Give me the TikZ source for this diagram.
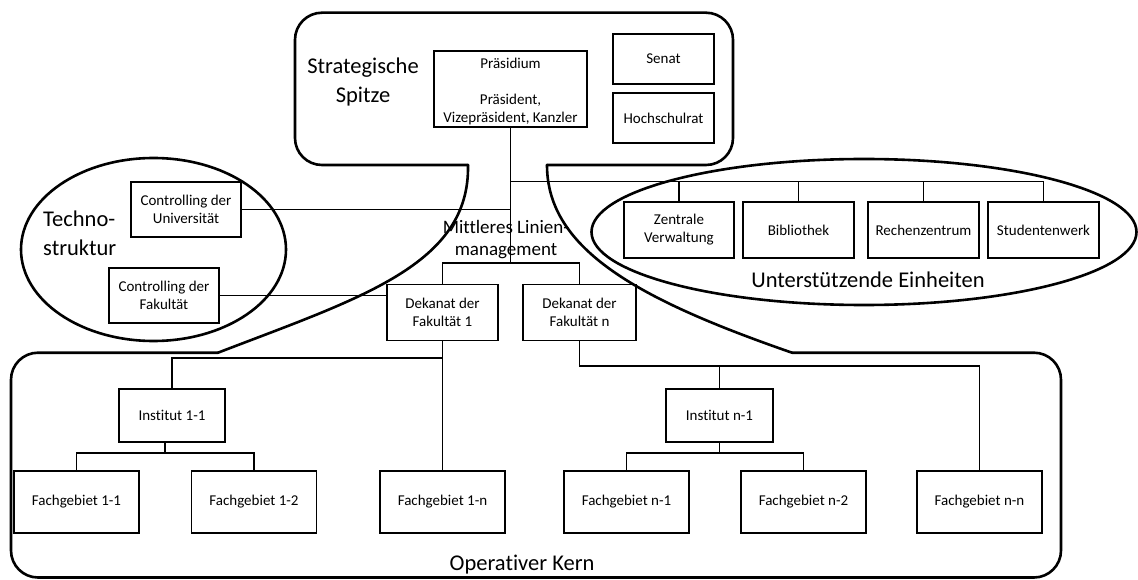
\documentclass[tikz,border=0pt]{standalone}
\usepackage{fontspec}
\setmainfont{Carlito}[Ligatures=NoCommon]
\begin{document}
\begin{tikzpicture}[x=1pt,y=-1pt]
\tikzset{
  box/.style={draw, line width=1.2pt, inner sep=0pt, align=center,
              font=\fontsize{15}{18}\selectfont},
  wh/.style 2 args={minimum width=#1, minimum height=#2},
  conn/.style={line width=1.2pt},
  outline/.style={line width=2.6pt, line join=round, line cap=round},
  biglabel/.style={inner sep=0pt, align=center, font=\fontsize{22.5}{29}\selectfont},
  midlabel/.style={inner sep=0pt, align=center, font=\fontsize{19}{22}\selectfont},
}
\useasboundingbox (0,0) rectangle (1138,580);

% strategic apex
\node[box, wh={153pt}{76pt}] (praes) at (510.5,89) {};
\node[inner sep=0pt, align=center, font=\fontsize{15}{18}\selectfont] (praestext)
  at (praes.center) [yshift=-2.5pt]
  {Präsidium\\[18pt]Präsident,\\Vizepräsident, Kanzler};
\node[box, wh={101pt}{50pt}] (senat) at (663.5,59) {Senat};
\node[box, wh={101pt}{50pt}] (hsr) at (663.5,118) {Hochschulrat};

% technostructure
\node[box, wh={110pt}{55pt}] (cu) at (186,209.5) {Controlling der\\Universität};
\node[box, wh={110pt}{55pt}] (cf) at (164,295.5) {Controlling der\\Fakultät};

% support units
\node[box, wh={110pt}{56pt}] (zv) at (679,230) {Zentrale\\Verwaltung};
\node[box, wh={111pt}{56pt}] (bib) at (798.5,230) {Bibliothek};
\node[box, wh={111pt}{56pt}] (rz) at (923.5,230) {Rechenzentrum};
\node[box, wh={111pt}{56pt}] (sw) at (1043.5,230) {Studentenwerk};

% middle line
\node[box, wh={111pt}{56pt}] (dk1) at (442.5,312.5) {Dekanat der\\Fakultät 1};
\node[box, wh={113pt}{56pt}] (dkn) at (579.5,312.5) {Dekanat der\\Fakultät n};

% operating core
\node[box, wh={106pt}{53pt}] (i11) at (172,415.5) {Institut 1-1};
\node[box, wh={107pt}{53pt}] (in1) at (719.5,415.5) {Institut n-1};
\node[box, wh={125pt}{62pt}] (f11) at (76.5,502) {Fachgebiet 1-1};
\node[box, wh={125pt}{62pt}] (f12) at (254,502) {Fachgebiet 1-2};
\node[box, wh={125pt}{62pt}] (f1n) at (442.5,502) {Fachgebiet 1-n};
\node[box, wh={125pt}{62pt}] (fn1) at (626.5,502) {Fachgebiet n-1};
\node[box, wh={125pt}{62pt}] (fn2) at (803.5,502) {Fachgebiet n-2};
\node[box, wh={125pt}{62pt}] (fnn) at (979.5,502) {Fachgebiet n-n};

% junction points
\coordinate (jS) at (510.5,181.5);
\coordinate (jD) at (510.5,263);
\coordinate (j1) at (442.5,358);
\coordinate (jN) at (979.5,366);
\coordinate (ja) at (165,453);
\coordinate (jb) at (719.5,453);

% connectors
\draw[conn] (praes.south) -- (jD);
\draw[conn] (jS) -| (sw.north);
\draw[conn] (zv.north) -- (zv.north |- jS);
\draw[conn] (bib.north) -- (bib.north |- jS);
\draw[conn] (rz.north) -- (rz.north |- jS);
\draw[conn] (cu.east) -- (cu.east -| jS);
\draw[conn] (dk1.north) |- (jD) -| (dkn.north);
\draw[conn] (cf.east) -- (cf.east -| dk1.west);
\draw[conn] (dk1.south) -- (f1n.north);
\draw[conn] (j1) -| (i11.north);
\draw[conn] (dkn.south) |- (jN) -- (fnn.north);
\draw[conn] (in1.north) -- (in1.north |- jN);
\draw[conn] (i11.south -| ja) -- (ja);
\draw[conn] (f11.north) |- (ja) -| (f12.north);
\draw[conn] (in1.south) -- (jb);
\draw[conn] (fn1.north) |- (jb) -| (fn2.north);

% outlines of the parts
\draw[outline, rounded corners=27pt]
  (468,165) -- (295,165) -- (295,12.7) -- (733,12.7) -- (733,165) -- (547,165);
\draw[outline] (468,165) .. controls (470,265) and (360,298) .. (218,352.7);
\draw[outline] (547,165) .. controls (547,250) and (640,300) .. (792,352.7);
\draw[outline, rounded corners=27pt]
  (218,352.7) -- (11,352.7) -- (11,577.5) -- (1061,577.5) -- (1061,352.7) -- (792,352.7);
\draw[outline] (153.5,249.5) ellipse [x radius=132.5, y radius=91.5];
\draw[outline] (864,232) ellipse [x radius=272.5, y radius=73];

% part labels
\node[biglabel] (lstrat) at (363,82) {Strategische\\Spitze};
\node[biglabel, align=left, anchor=west] (ltech) at (43,233) {Techno-\\struktur};
\node[midlabel] (lmid) at (506,240) {Mittleres Linien-\\management};
\node[biglabel] (lsup) at (868,280) {Unterstützende Einheiten};
\node[biglabel] (lcore) at (522,565) {Operativer Kern};
\end{tikzpicture}
\end{document}
